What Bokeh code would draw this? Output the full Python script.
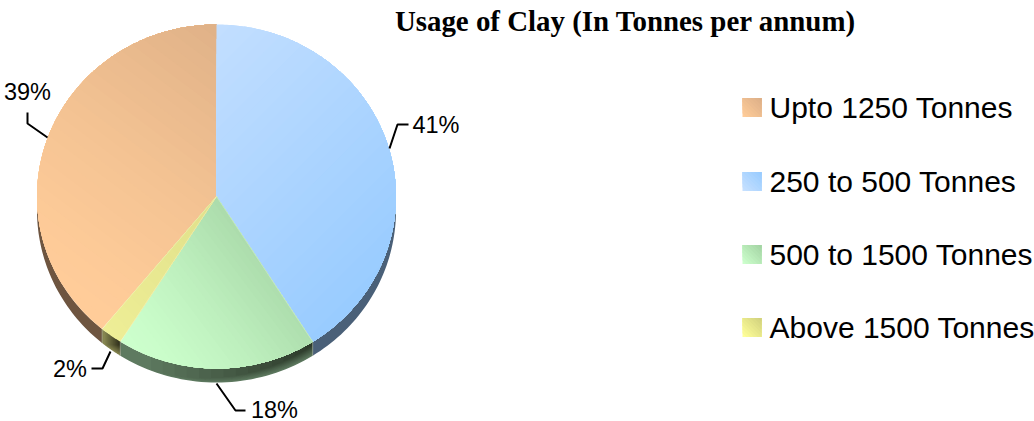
from bokeh.plotting import figure
from bokeh.models import Range1d
from bokeh.core.properties import value
from bokeh.embed import file_html
from bokeh.resources import INLINE
import math

categories = ["Upto 1250 Tonnes", "250 to 500 Tonnes", "500 to 1500 Tonnes", "Above 1500 Tonnes"]
shares = [39, 41, 18, 2]
labels = ["39%", "41%", "18%", "2%"]
title = "Usage of Clay (In Tonnes per annum)"

# colour ramps: light end, dark end, direction of the light->dark ramp (screen px, y down)
light = ["#FFCC99", "#C2DEFF", "#CCFFCC", "#EEEE96"]
dark = ["#E0B288", "#99CCFF", "#ACDCAC", "#E0E08A"]
ramp = [(0.75, -1.0), (0.7, 0.7), (0.8, -0.6), (0.7, -0.7)]
wall_col = ["#6E5540", "#4A6078", "#5E7A60", "#858550"]
wall_dark = ["#6E5540", "#4A6078", "#2C3A2A", "#2E2E1A"]
swatch_dark = ["#DDB088", "#99CCFF", "#A4D4A4", "#D2D27E"]
swatch_light = ["#FFCC99", "#C6E0FF", "#CCFFCC", "#FFFF99"]

W, H = 1034, 421
CX, CY, RX, RY, DEPTH = 216.0, 196.0, 179.5, 172.0, 14.0
START = 219.6  # first slice angle, clockwise from 12 o'clock


def hex2(c):
    return [int(c[i:i + 2], 16) for i in (1, 3, 5)]


def mix(a, b, t):
    a, b = hex2(a), hex2(b)
    return "#%02X%02X%02X" % tuple(round(x + (y - x) * t) for x, y in zip(a, b))


def pt(a, d=0.0):
    r = math.radians(a)
    return CX + RX * math.sin(r), CY - RY * math.cos(r) + d


def clip(poly, n, c):
    """keep the part of poly where n.p >= c"""
    out = []
    for i, q0 in enumerate(poly):
        q = poly[(i + 1) % len(poly)]
        dp = n[0] * q0[0] + n[1] * q0[1] - c
        dq = n[0] * q[0] + n[1] * q[1] - c
        if dp >= 0:
            out.append(q0)
        if dp * dq < 0:
            t = dp / (dp - dq)
            out.append((q0[0] + (q[0] - q0[0]) * t, q0[1] + (q[1] - q0[1]) * t))
    return out


def gradient(p, poly, c0, c1, n, steps=28, ease=1.0):
    ps = [n[0] * a + n[1] * b for a, b in poly]
    lo, hi = min(ps), max(ps)
    for i in range(steps):
        c = lo + (hi - lo) * i / steps
        part = clip(poly, n, c)
        if len(part) >= 3:
            col = mix(c0, c1, (i / (steps - 1)) ** ease)
            p.patch([q[0] for q in part], [q[1] for q in part], fill_color=col, line_color=None)


def wall_poly(a0, a1, d0, d1, n=40):
    top = [pt(a0 + (a1 - a0) * j / n, d0) for j in range(n + 1)]
    bot = [pt(a1 - (a1 - a0) * j / n, d1) for j in range(n + 1)]
    return top + bot


p = figure(width=W, height=H, output_backend="svg", toolbar_location=None,
           x_range=Range1d(0, W), y_range=Range1d(H, 0), min_border=0)
p.axis.visible = False
p.grid.visible = False
p.outline_line_color = None

angles = []
a = START
for s in shares:
    angles.append((a, a + s * 3.6))
    a += s * 3.6

# side wall: one base shape per slice, then nested darker shapes from its right end
for i, (a0, a1) in enumerate(angles):
    if a1 > 360:
        lo, hi = max(a0 - 360, 90), min(a1 - 360, 270)
    else:
        lo, hi = max(a0, 90), min(a1, 270)
    q = wall_poly(lo, hi, 0, DEPTH)
    p.patch([x[0] for x in q], [x[1] for x in q], fill_color=wall_col[i], line_color=None)
    if wall_col[i] != wall_dark[i]:
        n = 14
        for L in range(1, n + 1):
            f = L / n
            q = wall_poly(lo, lo + (hi - lo) * (1 - f) * .85 + (hi - lo) * .04, 0, DEPTH * (1 - .75 * f))
            p.patch([x[0] for x in q], [x[1] for x in q], fill_color=mix(wall_col[i], wall_dark[i], f),
                    line_color=None)
# the side faces' thin light seams
for a0, _ in angles[2:]:
    q0, q1 = pt(a0, 0), pt(a0, DEPTH)
    p.line([q0[0], q1[0]], [q0[1], q1[1]], line_color="#9AA89A", line_width=1, line_alpha=.8)
q0, q1 = pt(angles[0][0], 0), pt(angles[0][0], DEPTH)
p.line([q0[0], q1[0]], [q0[1], q1[1]], line_color="#9A9A80", line_width=1, line_alpha=.8)

# top faces
for i, (a0, a1) in enumerate(angles):
    n = max(8, int((a1 - a0) * 1.5))
    poly = [(CX, CY)] + [pt(a0 + (a1 - a0) * j / n) for j in range(n + 1)]
    gradient(p, poly, light[i], dark[i], ramp[i], ease=1.4 if i in (0, 2) else 1.0)
for k, (a0, _) in enumerate(angles):
    if k == 1:
        continue
    q0 = pt(a0)
    p.line([CX, q0[0]], [CY, q0[1]], line_color="white", line_width=1, line_alpha=.25)

# leader lines
lead_x = [[47, 27, 27], [389, 397, 408], [216, 235, 245], [110, 102, 91]]
lead_y = [[137, 123, 112], [148, 124, 124], [383, 410, 410], [351, 368, 368]]
p.multi_line(lead_x, lead_y, line_color="black", line_width=2)

# data labels
p.text([27, 435.5, 274, 69.5], [91, 124, 409, 368], text=labels, text_font=value("Liberation Sans"),
       text_font_size="23.5px", text_align="center", text_baseline="middle", text_color="black")

# title
p.text([625], [20], text=[title], text_font=value("Liberation Serif"), text_font_style="bold",
       text_font_size="28.9px", text_align="center", text_baseline="middle", text_color="black")

# legend
ly = [107, 181, 254, 327]
for i, y in enumerate(ly):
    s = [(742, y - 9.5), (761, y - 9.5), (761, y + 9.5), (742, y + 9.5)]
    gradient(p, s, swatch_light[i], swatch_dark[i], (0.7, -0.7), steps=10)
p.text([769] * 4, ly, text=categories, text_font=value("Liberation Sans"), text_font_size="30px",
       text_align="left", text_baseline="middle", text_color="black")

open("out.html", "w").write(file_html(p, INLINE))
